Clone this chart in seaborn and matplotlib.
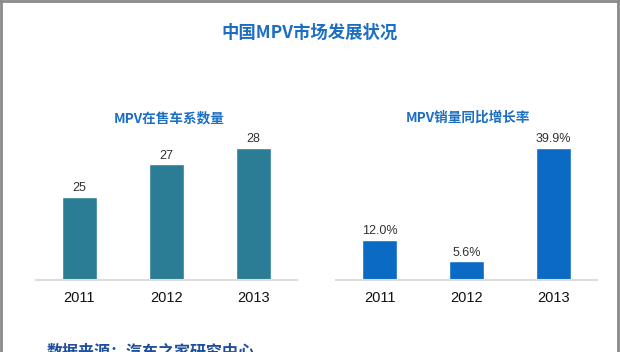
import matplotlib
matplotlib.use("Agg")
import matplotlib.pyplot as plt
import seaborn as sns
import pandas as pd
from matplotlib.lines import Line2D

years = ["2011", "2012", "2013"]
series_count = [25, 27, 28]
growth_rate = [12.0, 5.6, 39.9]

main_title = "中国MPV市场发展状况"
left_title = "MPV在售车系数量"
right_title = "MPV销量同比增长率"
source_text = "数据来源：汽车之家研究中心"

sns.set_theme(style="white")
plt.rcParams["font.family"] = ["Noto Sans CJK SC", "DejaVu Sans"]

W, H = 620, 352
fig = plt.figure(figsize=(W / 100, H / 100), dpi=100)
fig.patch.set_facecolor("white")


def px_rect(x0, x1, ytop, ybot):
    return [x0 / W, 1 - ybot / H, (x1 - x0) / W, (ybot - ytop) / H]


df1 = pd.DataFrame({"year": years, "value": series_count})
df2 = pd.DataFrame({"year": years, "value": growth_rate})

ax1 = fig.add_axes(px_rect(36, 297, 130, 280))
ax2 = fig.add_axes(px_rect(336, 597, 130, 280))

sns.barplot(data=df1, x="year", y="value", order=years, color="#2B7D95",
            saturation=1, width=0.4, ax=ax1)
sns.barplot(data=df2, x="year", y="value", order=years, color="#0B6BC4",
            saturation=1, width=0.4, ax=ax2)

ax1.set_ylim(19.92, 29.1)
ax2.set_ylim(0, 45.3)

ax1.bar_label(ax1.containers[0], labels=[f"{v:d}" for v in series_count],
              padding=2, fontsize=9, color="#333333", family="Liberation Sans")
ax2.bar_label(ax2.containers[0], labels=[f"{v:.1f}%" for v in growth_rate],
              padding=2, fontsize=9, color="#333333", family="Liberation Sans")

for ax in (ax1, ax2):
    ax.set_xlim(-0.5, 2.5)
    ax.set_xlabel("")
    ax.set_ylabel("")
    ax.set_yticks([])
    for s in ("top", "right", "left"):
        ax.spines[s].set_visible(False)
    ax.spines["bottom"].set_color("#DDDDDD")
    ax.spines["bottom"].set_linewidth(1.5)
    ax.tick_params(axis="x", length=0, pad=8, labelsize=10.5, labelcolor="#111111")
    for t in ax.get_xticklabels():
        t.set_fontfamily("Liberation Sans")
    ax.set_facecolor("none")

fig.text(310 / W, 1 - 33 / H, main_title, ha="center", va="center",
         fontsize=12.5, fontweight="bold", color="#1B6EC2")
fig.text(169 / W, 1 - 118 / H, left_title, ha="center", va="center",
         fontsize=9.8, fontweight="bold", color="#1B6EC2")
fig.text(468 / W, 1 - 118 / H, right_title, ha="center", va="center",
         fontsize=9.8, fontweight="bold", color="#1B6EC2")
fig.text(47 / W, 1 - 344 / H, source_text, ha="left", va="top",
         fontsize=11.5, fontweight="bold", color="#1F4E9A")

# frame border (left, top, right)
for xs, ys in [([1 / W, 1 / W], [0, 1]), ([0, 1], [1 - 1 / H, 1 - 1 / H]),
               ([618 / W, 618 / W], [0, 1])]:
    fig.add_artist(Line2D(xs, ys, transform=fig.transFigure, color="#8A8A8A", lw=2))

fig.savefig("out.png", dpi=100, facecolor="white")
